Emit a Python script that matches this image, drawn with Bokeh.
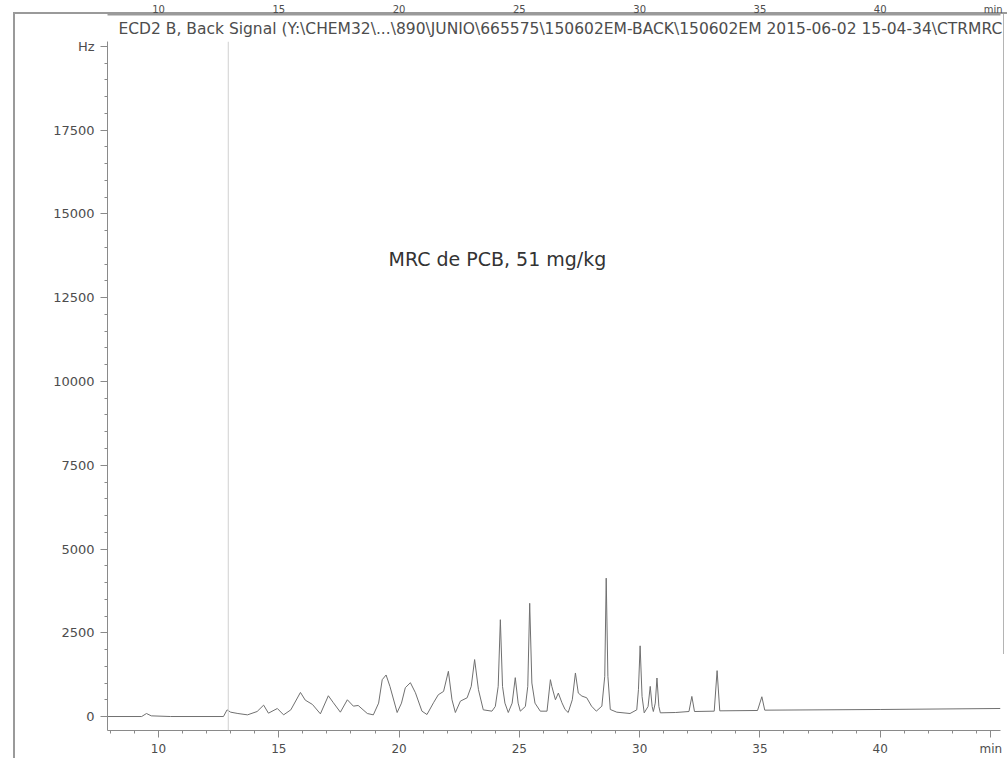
from bokeh.plotting import figure
from bokeh.models import Range1d, FixedTicker, Label, Span, LinearAxis, Title
from bokeh.embed import file_html
from bokeh.resources import INLINE

# ---- data ----
time_min = [7.9, 9.3, 9.5, 9.7, 10.5, 12.7, 12.85, 13.0, 13.3, 13.7, 14.1, 14.37, 14.57,
            14.94, 15.2, 15.5, 15.9, 16.1, 16.4, 16.73, 17.06, 17.27, 17.56, 17.85, 18.1,
            18.3, 18.68, 18.93, 19.15, 19.3, 19.46, 19.62, 19.92, 20.1, 20.26, 20.47, 20.68,
            20.95, 21.16, 21.43, 21.63, 21.85, 22.05, 22.2, 22.34, 22.55, 22.83, 23.0, 23.14,
            23.3, 23.5, 23.86, 24.0, 24.12, 24.21, 24.3, 24.4, 24.54, 24.7, 24.83, 24.95,
            25.04, 25.25, 25.35, 25.43, 25.52, 25.65, 25.87, 26.15, 26.29, 26.35, 26.5, 26.62,
            26.77, 26.9, 27.03, 27.2, 27.33, 27.45, 27.6, 27.8, 28.0, 28.2, 28.43, 28.55,
            28.61, 28.68, 28.78, 29.05, 29.6, 29.88, 29.95, 30.02, 30.1, 30.19, 30.35, 30.44,
            30.52, 30.57, 30.65, 30.72, 30.8, 30.86, 31.5, 32.05, 32.17, 32.28, 33.1, 33.22,
            33.33, 34.9, 35.08, 35.2, 40.0, 45.0]
signal_hz = [0, 0, 90, 20, 0, 0, 200, 130, 90, 50, 150, 340, 100,
             240, 50, 200, 720, 490, 360, 80, 620, 410, 130, 500, 310,
             330, 90, 50, 400, 1100, 1240, 900, 120, 400, 860, 1010, 710,
             160, 60, 410, 650, 750, 1350, 500, 120, 460, 560, 900, 1700,
             800, 200, 160, 300, 900, 2890, 900, 400, 120, 400, 1160, 400,
             160, 300, 900, 3380, 1000, 400, 160, 160, 1100, 900, 500, 700,
             410, 210, 120, 500, 1300, 700, 610, 560, 310, 160, 310, 1200,
             4130, 1200, 210, 130, 90, 200, 800, 2110, 600, 110, 300, 900,
             300, 150, 400, 1150, 300, 110, 120, 150, 600, 150, 160, 1370,
             170, 180, 590, 190, 210, 240]

y_ticks = [0, 2500, 5000, 7500, 10000, 12500, 15000, 17500, 20000]
y_tick_labels = ["0", "2500", "5000", "7500", "10000", "12500", "15000", "17500", "Hz"]
x_ticks = [10, 15, 20, 25, 30, 35, 40, 44.6]
x_tick_labels = ["10", "15", "20", "25", "30", "35", "40", "min"]
top_ticks = [10, 15, 20, 25, 30, 35, 40, 44.7]
top_tick_labels = ["10", "15", "20", "25", "30", "35", "40", "min"]
title_text = r"ECD2 B, Back Signal (Y:\CHEM32\...\890\JUNIO\665575\150602EM-BACK\150602EM 2015-06-02 15-04-34\CTRMRC"
annotation_text = "MRC de PCB, 51 mg/kg"
marker_time = 12.9

# ---- layout ----
X0, X1 = 7.88, 45.0
Y0, Y1 = -417, 20148
FL, FR, FT, FB = 107, 1000, 40, 731


def sx(px):
    return X0 + (px - FL) * (X1 - X0) / (FR - FL)


def sy(py):
    return Y1 - (py - FT) * (Y1 - Y0) / (FB - FT)


TXT = "#4d4d4d"
AX = "#8a8a8a"
EDGE = "#9a9a9a"
FONT = "DejaVu Sans"

p = figure(width=1007, height=758, x_range=Range1d(X0, X1), y_range=Range1d(Y0, Y1),
           output_backend="svg", toolbar_location=None,
           min_border_left=FL, min_border_right=1007 - FR,
           min_border_top=FT, min_border_bottom=758 - FB)
p.title_location = None
p.outline_line_color = None
p.grid.visible = False
p.background_fill_color = None
p.border_fill_color = None
# page frame lines of the scanned sheet, drawn as the plot's CSS background
p.styles = {
    "background-color": "white",
    "background-image": ("linear-gradient(#9a9a9a,#9a9a9a), "
                         "linear-gradient(#9a9a9a,#9a9a9a), "
                         "linear-gradient(#b4b4b4,#b4b4b4)"),
    "background-size": "2px 746px, 994px 2px, 1px 640px",
    "background-position": "13px 12px, 13px 12px, 1003px 14px",
    "background-repeat": "no-repeat",
}

p.line(time_min, signal_hz, line_color="#707070", line_width=1)

p.add_layout(Span(location=marker_time, dimension="height",
                  line_color="#d0d0d0", line_width=1))

# axes
for ax in (p.xaxis[0], p.yaxis[0]):
    ax.axis_line_color = AX
    ax.major_tick_line_color = AX
    ax.minor_tick_line_color = AX
    ax.major_label_text_color = TXT
    ax.major_label_text_font = FONT
    ax.major_tick_out = 7
    ax.major_tick_in = 0
    ax.minor_tick_out = 3
    ax.minor_tick_in = 0

p.yaxis.ticker = FixedTicker(ticks=y_ticks, minor_ticks=list(range(0, 20001, 500)))
p.yaxis.major_label_overrides = dict(zip(y_ticks, y_tick_labels))
p.yaxis.major_label_text_font_size = "13px"
p.yaxis.major_label_standoff = 6

p.xaxis.ticker = FixedTicker(ticks=x_ticks, minor_ticks=list(range(8, 45)))
p.xaxis.major_label_overrides = dict(zip(x_ticks, x_tick_labels))
p.xaxis.major_label_text_font_size = "12px"
p.xaxis.major_label_standoff = 4

# signal title, right above the frame
p.add_layout(Title(text=title_text, align="left", offset=11, standoff=7,
                   text_font=FONT, text_font_size="15.5px", text_font_style="normal",
                   text_color=TXT), "above")

# axis of the panel above (only its lower edge is on the page)
top_axis = LinearAxis(ticker=FixedTicker(ticks=top_ticks, minor_ticks=[]),
                      major_label_overrides=dict(zip(top_ticks, top_tick_labels)),
                      major_label_text_font_size="10px", major_label_text_font=FONT,
                      major_label_text_color=TXT, major_label_standoff=0,
                      major_tick_out=0, major_tick_in=0, minor_tick_out=0, minor_tick_in=0,
                      major_tick_line_color=None, minor_tick_line_color=None,
                      axis_line_color=EDGE, axis_line_width=2)
p.add_layout(top_axis, "above")

# annotation
p.add_layout(Label(x=sx(388), y=sy(258), text=annotation_text, text_align="left",
                   text_baseline="middle", text_font_size="19px",
                   text_color="#333333", text_font=FONT))

open("out.html", "w").write(file_html(p, INLINE))
